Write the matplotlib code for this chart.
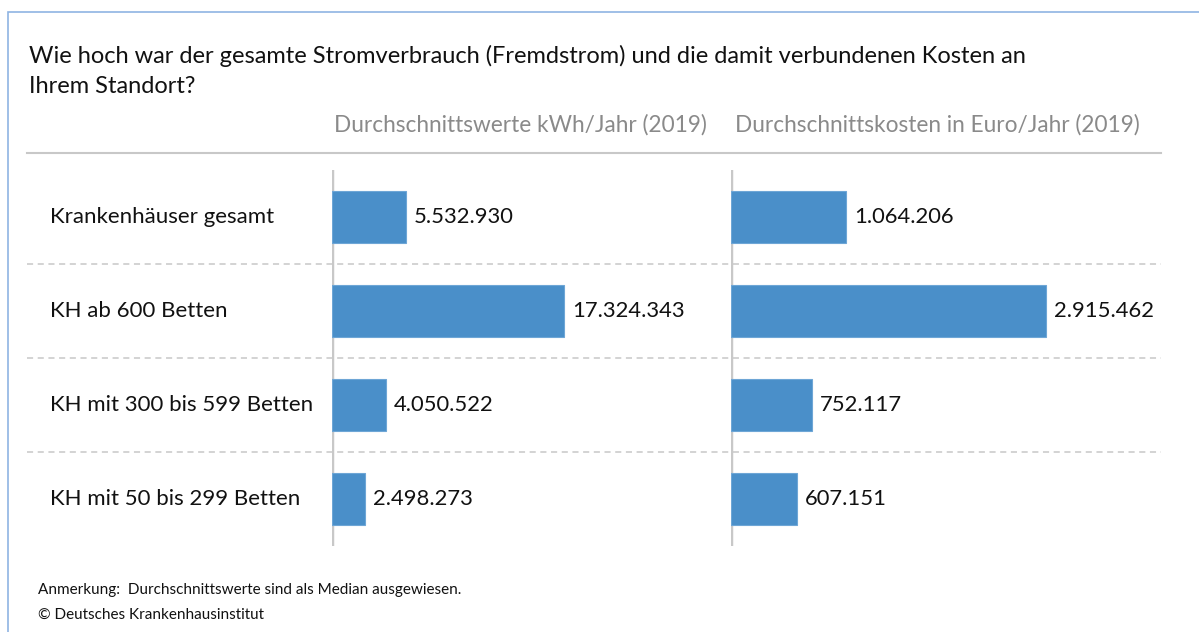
import matplotlib.pyplot as plt
import matplotlib.transforms as mtransforms
from matplotlib.lines import Line2D
from matplotlib.patches import Rectangle

plt.rcParams['font.family'] = ['Lato', 'DejaVu Sans']

categories = ['Krankenhäuser gesamt', 'KH ab 600 Betten',
              'KH mit 300 bis 599 Betten', 'KH mit 50 bis 299 Betten']
kwh = [5532930, 17324343, 4050522, 2498273]
kosten = [1064206, 2915462, 752117, 607151]
head_kwh = 'Durchschnittswerte kWh/Jahr (2019)'
head_kosten = 'Durchschnittskosten in Euro/Jahr (2019)'
title = ('Wie hoch war der gesamte Stromverbrauch (Fremdstrom) und die damit verbundenen Kosten an\n'
         'Ihrem Standort?')
note = 'Anmerkung:  Durchschnittswerte sind als Median ausgewiesen.'
source = '© Deutsches Krankenhausinstitut'

W, H = 1199, 632
fig = plt.figure(figsize=(W / 100, H / 100), dpi=100)
bar_col = '#4a8fc9'
grid_col = '#c8c8c8'


def px(x, y, w, h):
    # pixel box (top-left origin) -> figure fraction
    return [x / W, 1 - (y + h) / H, w / W, h / H]


# outer frame (only top and left edge visible)
fig.patches.append(Rectangle((8 / W, -0.1), 1.2, 1 - 12 / H + 0.1, transform=fig.transFigure,
                             fill=False, edgecolor='#8fb4e3', linewidth=1.2))

fig.text(29 / W, 1 - 45 / H, title, fontsize=17, va='top', ha='left',
         color='#111111', linespacing=1.5)

ax1 = fig.add_axes(px(332, 170, 380, 376))
ax2 = fig.add_axes(px(731, 170, 430, 376))

rows = range(len(categories))
ax1.barh(rows, kwh, height=0.55, color=bar_col, edgecolor='#6ea6d6', linewidth=0.8)
ax1.set_xlim(0, 380 / 13.38 * 1e6)
ax2.barh(rows, kosten, height=0.55, color=bar_col, edgecolor='#6ea6d6', linewidth=0.8)
ax2.set_xlim(0, 430 / 108.0 * 1e6)

for ax, vals in [(ax1, kwh), (ax2, kosten)]:
    ax.set_ylim(3.5, -0.5)
    ax.axis('off')
    ax.axvline(0, color=grid_col, linewidth=2.5, zorder=0)
    off = mtransforms.offset_copy(ax.transData, fig=fig, x=8, y=0, units='dots')
    for i, v in enumerate(vals):
        ax.text(v, i, f'{v:,}'.replace(',', '.'), transform=off,
                va='center', ha='left', fontsize=15.8, color='#111111')

bt = mtransforms.blended_transform_factory(fig.transFigure, ax1.transData)
for i, c in enumerate(categories):
    fig.text(50 / W, i, c, transform=bt, va='center', ha='left', fontsize=16, color='#111111')

# dashed separators
for y in [0.5, 1.5, 2.5]:
    fig.lines.append(Line2D([27 / W, 1161 / W], [y, y], transform=bt, color=grid_col,
                            linewidth=1.1, linestyle=(0, (4, 3))))

# column heads and top rule
fig.text(707 / W, 1 - 125 / H, head_kwh, ha='right', va='center', fontsize=16.3, color='#8a8a8a')
fig.text(1140 / W, 1 - 125 / H, head_kosten, ha='right', va='center', fontsize=16.3, color='#8a8a8a')
fig.lines.append(Line2D([27 / W, 1161 / W], [1 - 153 / H] * 2, transform=fig.transFigure,
                        color=grid_col, linewidth=1.5))

fig.text(38 / W, 1 - 590 / H, note, fontsize=11, va='center', ha='left', color='#111111')
fig.text(38 / W, 1 - 615 / H, source, fontsize=11, va='center', ha='left', color='#111111')

fig.savefig('out.png', dpi=100)
